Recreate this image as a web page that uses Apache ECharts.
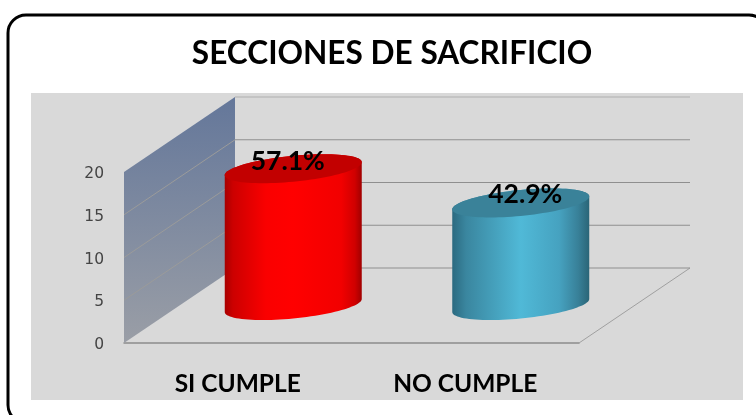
<!DOCTYPE html>
<html><head><meta charset="utf-8">
<style>html,body{margin:0;padding:0;background:#fff}#c{width:756px;height:415px}</style>
<script src="https://cdn.jsdelivr.net/npm/echarts@6/dist/echarts.min.js"></script>
</head><body><div id="c"></div>
<script>
const categories = ["SI CUMPLE", "NO CUMPLE"];
const counts = [16, 12];
const percentLabels = ["57.1%", "42.9%"];
const yTicks = [0, 5, 10, 15, 20];
const chartTitle = "SECCIONES DE SACRIFICIO";

const DEPTH_X = 111, DEPTH_Y = -75;
const RX = 68.5, RY = 13, SKEW = 6.5;
const labelShift = [[-5.5, -7.5], [4.5, -8]];
const bodyStops = [
  [[0,'#a80000'],[0.06,'#cc0000'],[0.3,'#fa0000'],[0.5,'#ff0000'],[0.85,'#f20000'],[0.95,'#d00000'],[1,'#a00000']],
  [[0,'#2b6a80'],[0.1,'#3a869f'],[0.5,'#50b9d7'],[0.78,'#46a2c0'],[0.92,'#388098'],[1,'#2a6577']]
];
const topFill = ['#c20000', '#3a8299'];

function stops(a){ return a.map(s => ({offset:s[0], color:s[1]})); }
function ell(cx, cy, from, to, n){
  const pts = [];
  for (let i = 0; i <= n; i++){
    const t = from + (to - from) * i / n;
    pts.push([cx + RX * Math.cos(t), cy - SKEW * Math.cos(t) + RY * Math.sin(t)]);
  }
  return pts;
}

const chart = echarts.init(document.getElementById('c'), null, {renderer:'canvas'});
chart.setOption({
  animation: false,
  backgroundColor: '#ffffff',
  title: {
    text: chartTitle, left: 387, top: 33, textAlign: 'center',
    textStyle: {fontFamily:'Lato', fontWeight:'bold', fontSize:31.6, color:'#000'}
  },
  graphic: [
    {type:'rect', z:-10, shape:{x:8, y:15, width:759, height:408, r:18},
     style:{fill:'#fff', stroke:'#000', lineWidth:3}},
    {type:'rect', z:-9, shape:{x:31, y:93, width:712, height:307},
     style:{fill:'#d9d9d9'}}
  ],
  grid: {left:124, right:177, top:172, bottom:72},
  xAxis: {
    type:'category', data:categories,
    axisLine:{show:true, lineStyle:{color:'#8c8c8c', width:1.5}},
    axisTick:{show:false},
    axisLabel:{fontFamily:'Lato', fontWeight:'bold', fontSize:24.5, color:'#000', margin:29}
  },
  yAxis: {
    type:'value', min:0, max:20, interval:5,
    axisLine:{show:false}, axisTick:{show:false}, splitLine:{show:false},
    axisLabel:{fontFamily:'DejaVu Sans', fontSize:15.5, color:'#444', margin:20, verticalAlign:'top', lineHeight:4}
  },
  series: [
    { // side wall
      type:'custom', z:2, silent:true,
      data:[[yTicks[0], yTicks[yTicks.length-1]]],
      encode:{y:[0,1]},
      renderItem(params, api){
        const left = params.coordSys.x;
        const y0 = api.coord([0, api.value(0)])[1];
        const y1 = api.coord([0, api.value(1)])[1];
        const right = params.coordSys.x + params.coordSys.width;
        return {type:'group', children:[
          {type:'polygon',
           shape:{points:[[left,y1],[left+DEPTH_X,y1+DEPTH_Y],[left+DEPTH_X,y0+DEPTH_Y],[left,y0]]},
           style:{fill:new echarts.graphic.LinearGradient(0,0,0,1,[{offset:0,color:'#64779a'},{offset:1,color:'#9a9ea6'}])}},
          {type:'line', shape:{x1:right,y1:y0,x2:right+DEPTH_X,y2:y0+DEPTH_Y},
           style:{stroke:'#a0a0a0', lineWidth:1}}
        ]};
      }
    },
    { // gridlines on wall and back
      type:'custom', z:3, silent:true,
      data:yTicks.map(v => [v]),
      encode:{y:0},
      renderItem(params, api){
        const v = api.value(0);
        const left = params.coordSys.x;
        const right = left + params.coordSys.width;
        const y = api.coord([0, v])[1];
        const isTop = v === yTicks[yTicks.length-1];
        const kids = [
          {type:'line', shape:{x1:left+DEPTH_X,y1:y+DEPTH_Y,x2:right+DEPTH_X,y2:y+DEPTH_Y},
           style:{stroke:isTop ? '#bdbdbd' : '#8f8f8f', lineWidth:isTop ? 1.5 : 1.2}}
        ];
        if (v > 0 && !isTop) kids.push({type:'line',
           shape:{x1:left,y1:y,x2:left+DEPTH_X,y2:y+DEPTH_Y},
           style:{stroke:'#9b9b9a', lineWidth:1}});
        return {type:'group', children:kids};
      }
    },
    { // cylinders
      type:'custom', z:5, silent:true,
      data:categories.map((c,i) => [i, counts[i]]),
      encode:{x:0, y:1},
      renderItem(params, api){
        const i = api.value(0);
        const t = api.coord([i, api.value(1)]);
        const b = api.coord([i, 0]);
        const cx = t[0] + DEPTH_X/2;
        const ty = t[1] + DEPTH_Y/2;
        const by = b[1] + DEPTH_Y/2;
        const body = ell(cx, by, 0, Math.PI, 48).concat(ell(cx, ty, Math.PI, 2*Math.PI, 48));
        return {type:'group', children:[
          {type:'polygon', shape:{points:body},
           style:{fill:new echarts.graphic.LinearGradient(0,0,1,0,stops(bodyStops[i]))}},
          {type:'polygon', shape:{points:ell(cx, ty, 0, 2*Math.PI, 96)},
           style:{fill:topFill[i]}},
          {type:'text', z2:10, style:{
            text:percentLabels[i], x:cx+labelShift[i][0], y:ty+labelShift[i][1],
            align:'center', verticalAlign:'middle',
            fontFamily:'Lato', fontWeight:'bold', fontSize:26.5, fill:'#000'}}
        ]};
      }
    }
  ]
});
</script></body></html>
